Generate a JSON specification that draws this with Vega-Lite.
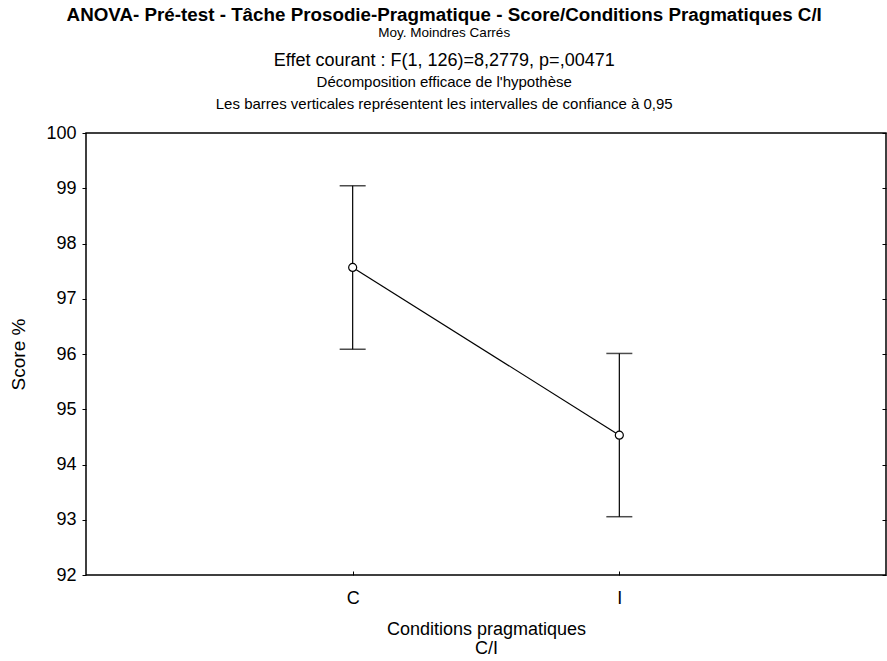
{
  "$schema": "https://vega.github.io/schema/vega-lite/v6.json",
  "background": "white",
  "padding": {"left": 9, "top": 5, "right": 0, "bottom": 0},
  "title": {
    "text": "ANOVA- Pré-test - Tâche Prosodie-Pragmatique - Score/Conditions Pragmatiques C/I",
    "subtitle": "Moy. Moindres Carrés",
    "anchor": "middle",
    "frame": "bounds",
    "dx": -4,
    "font": "Liberation Sans",
    "fontSize": 18.8,
    "fontWeight": "bold",
    "color": "black",
    "subtitleFont": "Liberation Sans",
    "subtitleFontSize": 13.5,
    "subtitleColor": "black",
    "subtitlePadding": 1,
    "offset": 12
  },
  "config": {
    "font": "Liberation Sans",
    "view": {"stroke": "black", "strokeWidth": 1.5},
    "axis": {
      "domainColor": "black",
      "tickColor": "black",
      "labelColor": "black",
      "titleColor": "black",
      "labelFont": "Liberation Sans",
      "titleFont": "Liberation Sans",
      "labelFontSize": 18,
      "titleFontSize": 19,
      "titleFontWeight": "normal",
      "grid": false
    }
  },
  "vconcat": [
    {
      "width": 800,
      "height": 442,
      "title": {
        "text": "Effet courant : F(1, 126)=8,2779, p=,00471",
        "subtitle": ["Décomposition efficace de l'hypothèse", "Les barres verticales représentent les intervalles de confiance à 0,95"],
        "anchor": "middle",
        "frame": "bounds",
        "dx": -4,
        "font": "Liberation Sans",
        "fontSize": 18,
        "fontWeight": "normal",
        "color": "black",
        "subtitleFont": "Liberation Sans",
        "subtitleFontSize": 15,
        "subtitleColor": "black",
        "subtitleLineHeight": 22,
        "subtitlePadding": 5,
        "offset": 12
      },
      "data": {
        "values": [
          {"cond": "C", "mean": 97.567, "lo": 96.085, "hi": 99.047},
          {"cond": "I", "mean": 94.53, "lo": 93.055, "hi": 96.01}
        ]
      },
      "resolve": {"axis": {"y": "independent"}},
      "layer": [
        {
          "mark": {"type": "rule", "color": "black", "strokeWidth": 1.2},
          "encoding": {
            "x": {
              "field": "cond", "type": "nominal",
              "scale": {"type": "point", "padding": 1},
              "axis": {
                "title": ["Conditions pragmatiques", "C/I"],
                "labelAngle": 0,
                "tickSize": -4,
                "labelPadding": 18,
                "titlePadding": 13,
                "titleFontSize": 18,
                "titleLineHeight": 19,
                "domain": false
              }
            },
            "y": {
              "field": "lo", "type": "quantitative",
              "scale": {"domain": [92, 100], "nice": false, "zero": false},
              "axis": {
                "title": "Score %",
                "values": [92, 93, 94, 95, 96, 97, 98, 99, 100],
                "tickSize": 4,
                "labelPadding": 6,
                "titlePadding": 17,
                "domain": false
              }
            },
            "y2": {"field": "hi"}
          }
        },
        {
          "mark": {"type": "tick", "color": "black", "thickness": 1.5, "size": 26},
          "encoding": {
            "x": {"field": "cond", "type": "nominal", "scale": {"type": "point", "padding": 1}},
            "y": {"field": "lo", "type": "quantitative", "axis": null}
          }
        },
        {
          "mark": {"type": "tick", "color": "black", "thickness": 1.5, "size": 26},
          "encoding": {
            "x": {"field": "cond", "type": "nominal", "scale": {"type": "point", "padding": 1}},
            "y": {"field": "hi", "type": "quantitative", "axis": null}
          }
        },
        {
          "mark": {"type": "line", "color": "black", "strokeWidth": 1.2},
          "encoding": {
            "x": {"field": "cond", "type": "nominal", "scale": {"type": "point", "padding": 1}},
            "y": {"field": "mean", "type": "quantitative", "axis": null}
          }
        },
        {
          "mark": {"type": "point", "shape": "circle", "filled": true, "fill": "white", "stroke": "black", "strokeWidth": 1.2, "size": 64, "opacity": 1},
          "encoding": {
            "x": {"field": "cond", "type": "nominal", "scale": {"type": "point", "padding": 1}},
            "y": {
              "field": "mean", "type": "quantitative",
              "axis": {
                "orient": "right",
                "values": [92, 93, 94, 95, 96, 97, 98, 99, 100],
                "labels": false,
                "title": null,
                "tickSize": -4,
                "domain": false
              }
            }
          }
        }
      ]
    }
  ]
}
